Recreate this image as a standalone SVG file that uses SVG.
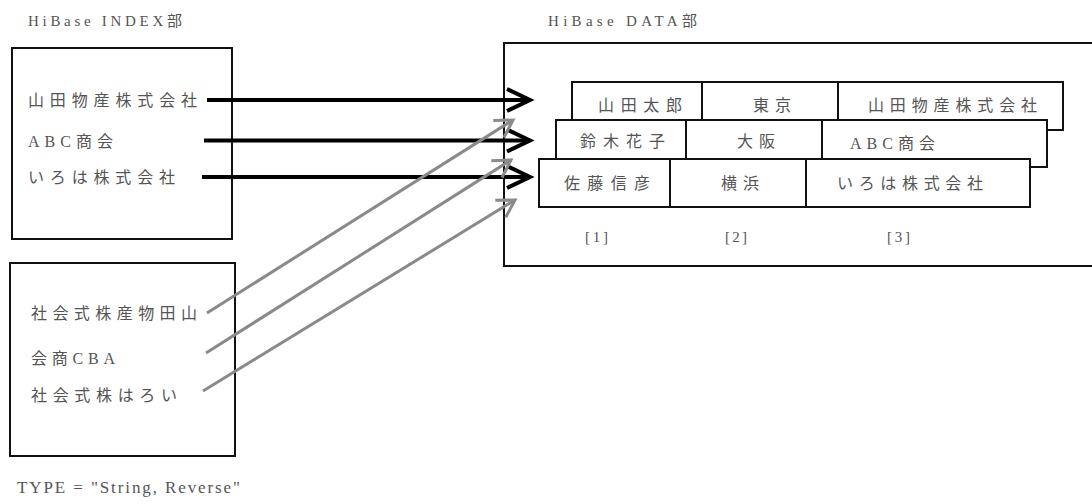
<svg xmlns="http://www.w3.org/2000/svg" width="1092" height="504" viewBox="0 0 1092 504">
<style>
.bx{fill:#fff;stroke:#111;stroke-width:2}
.dv{stroke:#111;stroke-width:2}
.t{font-family:"Liberation Serif","Noto Sans CJK JP",serif;font-size:16px;fill:#555}
.s{font-family:"Liberation Serif","Noto Sans CJK JP",serif;font-size:15px;fill:#555}
.bk{stroke:#000;stroke-width:4;fill:none}
.gr{stroke:#8a8a8a;stroke-width:3;fill:none}
</style>
<defs>
<marker id="ab" markerUnits="userSpaceOnUse" markerWidth="30" markerHeight="30" refX="24" refY="12" orient="auto" viewBox="0 0 30 24">
<path d="M1,1 L24,12 L1,23" fill="none" stroke="#000" stroke-width="4"/>
</marker>
<marker id="ag" markerUnits="userSpaceOnUse" markerWidth="24" markerHeight="24" refX="18" refY="11" orient="auto" viewBox="0 0 24 22">
<path d="M1,1 L18,11 L1,21" fill="none" stroke="#8a8a8a" stroke-width="3"/>
</marker>
</defs>
<text class="s" x="28" y="25.5" textLength="154" lengthAdjust="spacing">HiBase INDEX部</text>
<text class="s" x="548" y="25.5" textLength="149" lengthAdjust="spacing">HiBase DATA部</text>
<g id="index-normal">
<rect class="bx" x="12" y="48" width="220" height="191"/>
<text class="t" x="28" y="105.5" textLength="169" lengthAdjust="spacing">山田物産株式会社</text>
<text class="t" x="28" y="146.5" textLength="85" lengthAdjust="spacing">ABC商会</text>
<text class="t" x="28" y="182.5" textLength="147" lengthAdjust="spacing">いろは株式会社</text>
</g>
<g id="index-reverse">
<rect class="bx" x="10" y="263" width="225" height="193"/>
<text class="t" x="31" y="318.5" textLength="166" lengthAdjust="spacing">社会式株産物田山</text>
<text class="t" x="31" y="363.5" textLength="84" lengthAdjust="spacing">会商CBA</text>
<text class="t" x="31" y="400.5" textLength="146" lengthAdjust="spacing">社会式株はろい</text>
</g>
<g id="data">
<rect class="bx" x="504" y="43" width="620" height="223"/>
<g id="row1">
<rect class="bx" x="572" y="82" width="491" height="48"/>
<line class="dv" x1="702" y1="82" x2="702" y2="130"/>
<line class="dv" x1="838" y1="82" x2="838" y2="130"/>
<text class="t" x="598" y="111" textLength="84" lengthAdjust="spacing">山田太郎</text>
<text class="t" x="753" y="111" textLength="38" lengthAdjust="spacing">東京</text>
<text class="t" x="868" y="111" textLength="169" lengthAdjust="spacing">山田物産株式会社</text>
</g>
<g id="row2">
<rect class="bx" x="556" y="120" width="491" height="47"/>
<line class="dv" x1="686" y1="120" x2="686" y2="167"/>
<line class="dv" x1="822" y1="120" x2="822" y2="167"/>
<text class="t" x="580" y="147" textLength="85" lengthAdjust="spacing">鈴木花子</text>
<text class="t" x="737" y="147" textLength="38" lengthAdjust="spacing">大阪</text>
<text class="t" x="850" y="148.5" textLength="85" lengthAdjust="spacing">ABC商会</text>
</g>
<g id="row3">
<rect class="bx" x="539" y="159" width="491" height="48"/>
<line class="dv" x1="670" y1="159" x2="670" y2="207"/>
<line class="dv" x1="806" y1="159" x2="806" y2="207"/>
<text class="t" x="564" y="189" textLength="86" lengthAdjust="spacing">佐藤信彦</text>
<text class="t" x="721" y="189" textLength="38" lengthAdjust="spacing">横浜</text>
<text class="t" x="837" y="189" textLength="146" lengthAdjust="spacing">いろは株式会社</text>
</g>
<text class="s" x="585" y="242" textLength="23" lengthAdjust="spacing">[1]</text>
<text class="s" x="725" y="242" textLength="22" lengthAdjust="spacing">[2]</text>
<text class="s" x="887" y="242" textLength="23" lengthAdjust="spacing">[3]</text>
</g>
<g id="connectors">
<line class="bk" x1="207" y1="100" x2="530" y2="100" marker-end="url(#ab)"/>
<line class="bk" x1="204" y1="140.5" x2="530" y2="140.5" marker-end="url(#ab)"/>
<line class="bk" x1="202" y1="177" x2="530" y2="177" marker-end="url(#ab)"/>
<line class="gr" x1="207" y1="313" x2="513" y2="120" marker-end="url(#ag)"/>
<line class="gr" x1="206" y1="353" x2="511" y2="160" marker-end="url(#ag)"/>
<line class="gr" x1="203" y1="391" x2="515" y2="200" marker-end="url(#ag)"/>
</g>
<text class="t" x="17" y="492.5" textLength="223" lengthAdjust="spacing" style="font-size:17px">TYPE = "String, Reverse"</text>
</svg>
